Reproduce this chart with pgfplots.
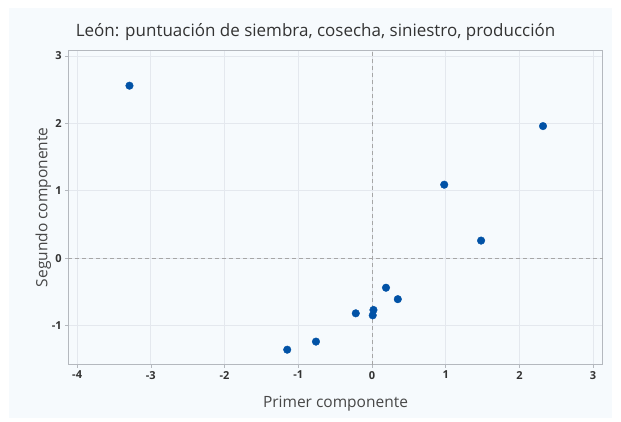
\documentclass[border=0pt]{standalone}
\usepackage{pgfplots}
\pgfplotsset{compat=1.18}
\usepackage{fontspec}
\setmainfont{Open Sans}
\definecolor{panel}{HTML}{F6FAFD}
\definecolor{pts}{HTML}{0152A6}
\definecolor{gridc}{HTML}{E4E8EE}
\definecolor{axc}{HTML}{B4B8BE}
\definecolor{txt}{HTML}{333333}
\begin{document}
\begin{tikzpicture}[x=1pt,y=1pt]
\fill[white] (0,0) rectangle (621,421);
\fill[panel] (9,3) rectangle (612,413);
\begin{axis}[
  at={(68.3pt,56.5pt)}, anchor=south west,
  scale only axis, width=534.4pt, height=314.5pt,
  xmin=-4.12, xmax=3.13, ymin=-1.58, ymax=3.09,
  xtick={-4,-3,-2,-1,0,1,2,3}, ytick={-1,0,1,2,3},
  grid=major, major grid style={gridc, line width=0.8pt},
  axis line style={axc, line width=0.8pt},
  tick style={axc, line width=0.7pt}, tick align=outside,
  major tick length=3pt,
  xtick pos=bottom, ytick pos=left,
  axis background/.style={fill=panel},
  /pgf/number format/assume math mode=true,
  ticklabel style={font=\fontsize{11}{13}\selectfont\bfseries, text=txt},
  xlabel={Primer componente}, ylabel={Segundo componente},
  label style={font=\fontsize{15.5}{17}\selectfont, text=txt!90},
  xlabel style={yshift=-10pt},
  ylabel style={yshift=-6pt},
  title={León: puntuación de siembra, cosecha, siniestro, producción},
  title style={font=\fontsize{17}{20}\selectfont, text=txt, yshift=0pt, xshift=-20pt},
  clip=false,
]
\addplot[gray!70, line width=0.8pt, dash pattern=on 4pt off 3pt] coordinates {(0,-1.58) (0,3.09)};
\addplot[gray!70, line width=0.8pt, dash pattern=on 4pt off 3pt] coordinates {(-4.12,0) (3.13,0)};
\addplot[only marks, mark=*, mark size=3.8pt, mark options={fill=pts, draw=pts}] coordinates {
(-3.29,2.56) (2.32,1.96) (0.98,1.09) (1.48,0.26) (0.19,-0.44) (0.35,-0.61)
(0.02,-0.77) (0.01,-0.85) (-0.22,-0.82) (-0.76,-1.24) (-1.15,-1.36)
};
\end{axis}
\end{tikzpicture}
\end{document}
